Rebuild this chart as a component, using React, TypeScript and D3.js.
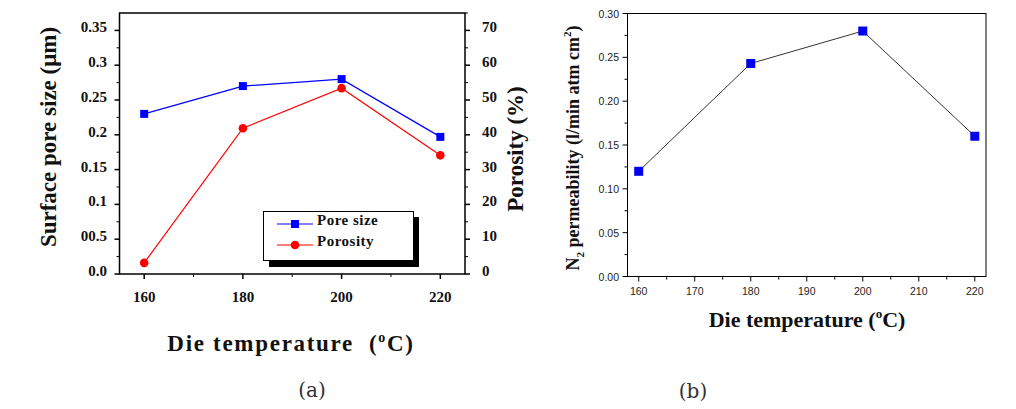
import React from 'react';
import * as d3 from 'd3';

// chart (a)
const tempsA = [160, 180, 200, 220];
const poreSize = [0.23, 0.27, 0.28, 0.197];
const porosity = [3.2, 41.9, 53.4, 34.1];
const leftTicksA = [0, 0.05, 0.1, 0.15, 0.2, 0.25, 0.3, 0.35];
const leftTickLabelsA = ['0.0', '00.5', '0.1', '0.15', '0.2', '0.25', '0.3', '0.35'];
const rightTicksA = [0, 10, 20, 30, 40, 50, 60, 70];
const xTicksA = [160, 180, 200, 220];
const legendA = ['Pore size', 'Porosity'];

// chart (b)
const tempsB = [160, 180, 200, 220];
const permeability = [0.12, 0.243, 0.28, 0.16];
const xTicksB = [160, 170, 180, 190, 200, 210, 220];
const yTicksB = [0, 0.05, 0.1, 0.15, 0.2, 0.25, 0.3];

const serif = '"Liberation Serif", "Times New Roman", serif';
const sans = '"Liberation Sans", Arial, sans-serif';

export default function App() {
  const xA = d3.scaleLinear().domain([155, 225]).range([119.5, 465]);
  const yA = d3.scaleLinear().domain([0, 0.375]).range([274, 13]);
  const yA2 = d3.scaleLinear().domain([0, 75]).range([274, 13]);

  const xB = d3.scaleLinear().domain([158, 222]).range([627.5, 986]);
  const yB = d3.scaleLinear().domain([0, 0.3]).range([276.5, 13.5]);

  const line = d3.line<[number, number]>().x(d => d[0]).y(d => d[1]);

  const poreLine = line(tempsA.map((t, i) => [xA(t), yA(poreSize[i])])) || '';
  const porLine = line(tempsA.map((t, i) => [xA(t), yA2(porosity[i])])) || '';
  const permLine = line(tempsB.map((t, i) => [xB(t), yB(permeability[i])])) || '';

  const minorA = d3.range(0.025, 0.375, 0.05);
  const minorA2 = d3.range(5, 76, 10);
  const minorXA = [170, 190, 210];
  const minorXB = d3.range(165, 220, 10);
  const minorYB = d3.range(0.025, 0.3, 0.05);

  const [y0, y1] = yA.range();
  const [x0, x1] = xA.range();
  const [bx0, bx1] = xB.range();
  const [by0, by1] = yB.range();

  return (
    <svg width={1016} height={409} style={{ position: 'absolute', left: 0, top: 0, background: '#fff' }}>
      {/* ---------- (a) ---------- */}
      <g>
        {/* left ticks */}
        {leftTicksA.map((v, i) => (
          <g key={`la-${i}`}>
            <line x1={x0 - 5} x2={x0} y1={yA(v)} y2={yA(v)} stroke="#000" strokeWidth={1.5} />
            <text x={107} y={yA(v) - 3} textAnchor="end" dominantBaseline="central"
              fontFamily={serif} fontWeight="bold" fontSize={15} fill="#111">{leftTickLabelsA[i]}</text>
          </g>
        ))}
        {minorA.map((v, i) => (
          <line key={`lma-${i}`} x1={x0 - 3} x2={x0} y1={yA(v)} y2={yA(v)} stroke="#000" strokeWidth={1} />
        ))}
        {/* right ticks */}
        {rightTicksA.map((v, i) => (
          <g key={`ra-${i}`}>
            <line x1={x1} x2={x1 + 5} y1={yA2(v)} y2={yA2(v)} stroke="#000" strokeWidth={1.5} />
            <text x={482} y={yA2(v) - 3} textAnchor="start" dominantBaseline="central"
              fontFamily={serif} fontWeight="bold" fontSize={15} fill="#111">{v}</text>
          </g>
        ))}
        {minorA2.map((v, i) => (
          <line key={`rma-${i}`} x1={x1} x2={x1 + 3} y1={yA2(v)} y2={yA2(v)} stroke="#000" strokeWidth={1} />
        ))}
        {/* x ticks */}
        {xTicksA.map((v, i) => (
          <g key={`xa-${i}`}>
            <line x1={xA(v)} x2={xA(v)} y1={y0} y2={y0 + 5} stroke="#000" strokeWidth={1.5} />
            <text x={xA(v)} y={297} textAnchor="middle" dominantBaseline="central"
              fontFamily={serif} fontWeight="bold" fontSize={15} fill="#111">{v}</text>
          </g>
        ))}
        {minorXA.map((v, i) => (
          <line key={`xma-${i}`} x1={xA(v)} x2={xA(v)} y1={y0} y2={y0 + 3} stroke="#000" strokeWidth={1} />
        ))}
        {/* frame */}
        <rect x={x0} y={y1} width={x1 - x0} height={y0 - y1} fill="none" stroke="#000" strokeWidth={1.5} />

        {/* series */}
        <path d={poreLine} fill="none" stroke="#0000ff" strokeWidth={1.2} />
        <path d={porLine} fill="none" stroke="#ff0000" strokeWidth={1.2} />
        {tempsA.map((t, i) => (
          <rect key={`ps-${i}`} x={xA(t) - 4} y={yA(poreSize[i]) - 4} width={8} height={8} fill="#0000ff" />
        ))}
        {tempsA.map((t, i) => (
          <circle key={`po-${i}`} cx={xA(t)} cy={yA2(porosity[i])} r={4.3} fill="#ff0000" />
        ))}

        {/* legend */}
        <rect x={269} y={217} width={150} height={50} fill="#000" />
        <rect x={263.5} y={211.5} width={150} height={49} fill="#fff" stroke="#000" strokeWidth={1} />
        <line x1={277} x2={313} y1={224} y2={224} stroke="#0000ff" strokeWidth={1.2} />
        <rect x={291} y={220} width={8} height={8} fill="#0000ff" />
        <text x={317} y={220} dominantBaseline="central" fontFamily={serif} fontWeight="bold"
          fontSize={15} letterSpacing={0.5} fill="#111">{legendA[0]}</text>
        <line x1={277} x2={313} y1={245} y2={245} stroke="#ff0000" strokeWidth={1.2} />
        <circle cx={295} cy={245} r={4.3} fill="#ff0000" />
        <text x={317} y={241} dominantBaseline="central" fontFamily={serif} fontWeight="bold"
          fontSize={15} letterSpacing={0.5} fill="#111">{legendA[1]}</text>

        {/* titles */}
        <text transform="translate(56,137) rotate(-90)" textAnchor="middle" fontFamily={serif}
          fontWeight="bold" fontSize={23} fill="#111">Surface pore size (μm)</text>
        <text transform="translate(523,149) rotate(-90)" textAnchor="middle" fontFamily={serif}
          fontWeight="bold" fontSize={23} fill="#111">Porosity (%)</text>
        <text x={291} y={351} textAnchor="middle" fontFamily={serif} fontWeight="bold" fontSize={23}
          letterSpacing={1.7} fill="#111">
          Die temperature {'\u00a0'}(<tspan fontSize={14} dy={-9}>o</tspan><tspan dy={9}>C)</tspan>
        </text>
        <text x={312} y={397} textAnchor="middle" fontFamily='"DejaVu Serif", serif' fontSize={20} fill="#333">(a)</text>
      </g>

      {/* ---------- (b) ---------- */}
      <g>
        {yTicksB.map((v, i) => (
          <g key={`yb-${i}`}>
            <line x1={bx0 - 5} x2={bx0} y1={yB(v)} y2={yB(v)} stroke="#000" strokeWidth={1} />
            <text x={619} y={yB(v)} textAnchor="end" dominantBaseline="central"
              fontFamily={sans} fontSize={10.5} fill="#222">{v.toFixed(2)}</text>
          </g>
        ))}
        {minorYB.map((v, i) => (
          <line key={`ymb-${i}`} x1={bx0 - 3} x2={bx0} y1={yB(v)} y2={yB(v)} stroke="#000" strokeWidth={1} />
        ))}
        {xTicksB.map((v, i) => (
          <g key={`xb-${i}`}>
            <line x1={xB(v)} x2={xB(v)} y1={by0} y2={by0 + 5} stroke="#000" strokeWidth={1} />
            <text x={xB(v)} y={291} textAnchor="middle" dominantBaseline="central"
              fontFamily={sans} fontSize={10.5} fill="#222">{v}</text>
          </g>
        ))}
        {minorXB.map((v, i) => (
          <line key={`xmb-${i}`} x1={xB(v)} x2={xB(v)} y1={by0} y2={by0 + 3} stroke="#000" strokeWidth={1} />
        ))}
        <rect x={bx0} y={by1} width={bx1 - bx0} height={by0 - by1} fill="none" stroke="#000" strokeWidth={1} />

        <path d={permLine} fill="none" stroke="#333" strokeWidth={1} />
        {tempsB.map((t, i) => (
          <rect key={`pm-${i}`} x={xB(t) - 4.5} y={yB(permeability[i]) - 4.5} width={9} height={9} fill="#0000ee" />
        ))}

        <text transform="translate(579,148) rotate(-90)" textAnchor="middle" fontFamily={serif}
          fontWeight="bold" fontSize={18} fill="#111">
          N<tspan fontSize={11} dy={5}>2</tspan><tspan dy={-5}> permeability (l/min atm cm</tspan>
          <tspan fontSize={11} dy={-8}>2</tspan><tspan dy={8}>)</tspan>
        </text>
        <text x={807} y={327} textAnchor="middle" fontFamily={serif} fontWeight="bold" fontSize={22} fill="#111">
          Die temperature (<tspan fontSize={13} dy={-9}>o</tspan><tspan dy={9}>C)</tspan>
        </text>
        <text x={693} y={398} textAnchor="middle" fontFamily='"DejaVu Serif", serif' fontSize={20} fill="#333">(b)</text>
      </g>
    </svg>
  );
}
